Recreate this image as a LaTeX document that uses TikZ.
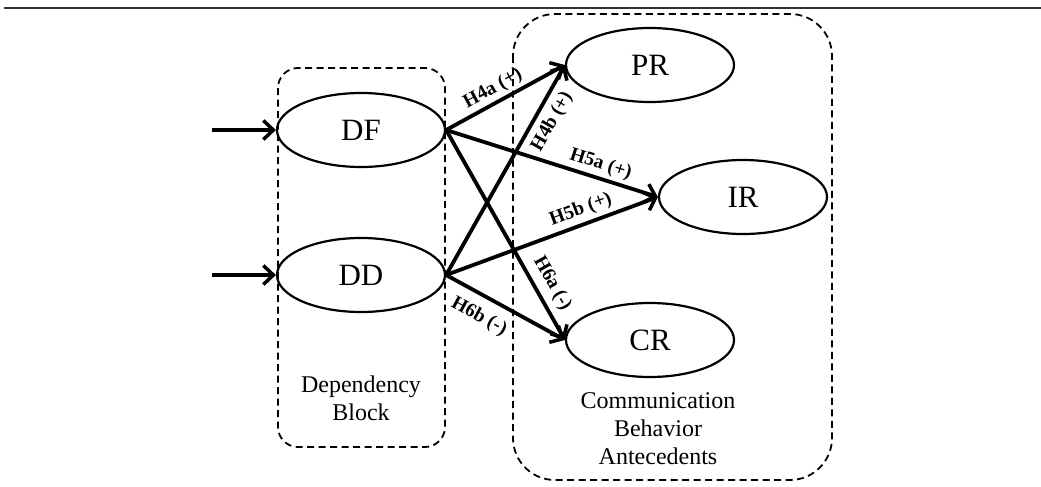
\documentclass[tikz,border=0pt]{standalone}
\usepackage{fontspec}
\setmainfont{Liberation Serif}
\usetikzlibrary{shapes.geometric,arrows.meta}
\tikzset{
  var/.style={ellipse, draw, line width=2.2pt, minimum width=168pt, minimum height=74pt, inner sep=0pt, font=\fontsize{31}{31}\selectfont},
  blockbox/.style={draw, line width=1.8pt, dash pattern=on 7pt off 4.5pt},
  path/.style={line width=3.8pt, -{Straight Barb[length=10pt,width=19pt,line width=3.5pt]}},
  hyp/.style={font=\bfseries\fontsize{19.5}{19.5}\selectfont, sloped, inner sep=2pt},
  caption/.style={align=center, font=\fontsize{24}{28}\selectfont}
}
\begin{document}
\begin{tikzpicture}[x=1pt,y=-1pt]
\useasboundingbox (0,0) rectangle (1041,487);
% top rule
\coordinate (ruleL) at (4,8);
\coordinate (ruleR) at (1041,8);
\draw[line width=2.8pt, black!80] (ruleL) -- (ruleR);
% blocks
\draw[blockbox, rounded corners=20pt] (278,68) rectangle (445,447);
\draw[blockbox, rounded corners=42pt] (513,14) rectangle (832,480);
% variables
\node[var] (DF) at (361,130) {DF};
\node[var] (DD) at (361,275) {DD};
\node[var] (PR) at (650,65) {PR};
\node[var] (IR) at (743,197) {IR};
\node[var] (CR) at (650,340) {CR};
% captions
\node[caption] (depcap) at (361,398) {Dependency\\Block};
\node[caption] (combcap) at (658,429) {Communication\\Behavior\\Antecedents};
% inputs
\coordinate (inDF) at (212,130);
\coordinate (inDD) at (212,275);
\draw[path] (inDF) -- (DF.west);
\draw[path] (inDD) -- (DD.west);
% hypotheses
\draw[path] (DF.east) -- node[hyp, pos=0.45, above=1pt] {H4a (+)} (PR.west);
\draw[path] (DD.east) -- node[hyp, pos=0.77, below=4pt] {H4b (+)} (PR.west);
\draw[path] (DF.east) -- node[hyp, pos=0.71, above=1pt] {H5a (+)} (IR.west);
\draw[path] (DD.east) -- node[hyp, pos=0.66, above=2pt] {H5b (+)} (IR.west);
\draw[path] (DF.east) -- node[hyp, pos=0.77, above=4pt] {H6a (-)} (CR.west);
\draw[path] (DD.east) -- node[hyp, pos=0.36, below=8pt] {H6b (-)} (CR.west);
\end{tikzpicture}
\end{document}
